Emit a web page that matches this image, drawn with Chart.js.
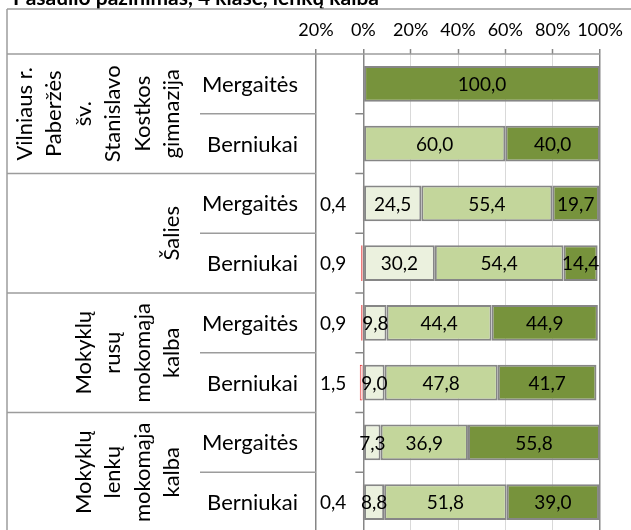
<!DOCTYPE html>
<html><head><meta charset="utf-8">
<script src="https://cdn.jsdelivr.net/npm/chart.js@4"></script>
<style>html,body{margin:0;padding:0;overflow:hidden;background:#fff}canvas{display:block}</style>
</head><body>
<canvas id="c" width="631" height="532"></canvas>
<script>
const chartTitle = "Pasaulio pažinimas, 4 klasė, lenkų kalba";
const categories = ["Mergaitės","Berniukai","Mergaitės","Berniukai","Mergaitės","Berniukai","Mergaitės","Berniukai"];
const groupLabels = [
  ["Vilniaus r.","Paberžės","šv.","Stanislavo","Kostkos","gimnazija"],
  ["Šalies"],
  ["Mokyklų","rusų","mokomąja","kalba"],
  ["Mokyklų","lenkų","mokomąja","kalba"]
];
const groupSizes = [2,2,2,2];
const seriesNames = ["Nepatenkinamas","Patenkinamas","Pagrindinis","Aukštesnysis"];
const belowLevel   = [null, null, 0.4, 0.9, 0.9, 1.5, null, 0.4];
const satisfactory = [null, null, 24.5, 30.2, 9.8, 9.0, 7.3, 8.8];
const basic        = [null, 60.0, 55.4, 54.4, 44.4, 47.8, 36.9, 51.8];
const advanced     = [100.0, 40.0, 19.7, 14.4, 44.9, 41.7, 55.8, 39.0];
const axisMin = -20, axisMax = 100, axisStep = 20;

const FONT = "Lato, 'Open Sans', sans-serif";
const GRAY = '#868686';
const TABLE = '#9c9c9c';

function fmt(v){ return Math.abs(v).toFixed(1).replace('.', ','); }

const tablePlugin = {
  id: 'tableDeco',
  beforeDraw(chart){
    const c = chart.ctx; c.save(); c.fillStyle = '#fff'; c.fillRect(0,0,chart.width,chart.height); c.restore();
  },
  afterDraw(chart){
    const c = chart.ctx, ca = chart.chartArea, xs = chart.scales.x, ys = chart.scales.y;
    c.save();
    function ln(x1,y1,x2,y2){ c.beginPath(); c.moveTo(x1,y1); c.lineTo(x2,y2); c.stroke(); }
    // title (cut at top)
    c.fillStyle = '#000';
    c.font = "bold 21px " + FONT;
    c.textAlign = 'left'; c.textBaseline = 'alphabetic';
    c.fillText(chartTitle, 13, 5);
    // table lines
    const L = 7, T = 9;
    const xNeg = xs.getPixelForValue(axisMin);
    const x0 = xs.getPixelForValue(0);
    c.strokeStyle = TABLE; c.lineWidth = 1.5;
    ln(L, T, chart.width, T);
    ln(L, T, L, chart.height);
    ln(L, ca.top, ca.right, ca.top);
    const n = categories.length;
    const bnd = i => (ys.getPixelForValue(i-1) + ys.getPixelForValue(i)) / 2;
    let acc = 0; const groupStarts = [];
    groupSizes.forEach(s => { groupStarts.push(acc); acc += s; });
    for (let i = 1; i < n; i++) {
      const yb = bnd(i);
      const isGroup = groupStarts.includes(i);
      c.strokeStyle = TABLE; c.lineWidth = 1.5;
      ln(isGroup ? L : 200, yb, xNeg, yb);
      c.strokeStyle = GRAY;
      ln(x0 - 8, yb, x0, yb);
    }
    // sub labels
    c.fillStyle = '#000';
    c.font = "22px " + FONT;
    c.textAlign = 'right'; c.textBaseline = 'middle';
    for (let i = 0; i < n; i++) c.fillText(categories[i], 298, ys.getPixelForValue(i) + 1);
    // group labels rotated
    groupLabels.forEach((lines, g) => {
      const first = groupStarts[g], last = first + groupSizes[g] - 1;
      const top = first === 0 ? ca.top : bnd(first);
      const bot = last === n - 1 ? ca.bottom : bnd(last + 1);
      const yc = (top + bot) / 2;
      lines.forEach((t, j) => {
        const xc = 172 - (lines.length - 1 - j) * 29.5;
        c.save();
        c.translate(xc, yc);
        c.rotate(-Math.PI / 2);
        c.textAlign = 'center'; c.textBaseline = 'middle';
        c.fillText(t, 0, 0);
        c.restore();
      });
    });
    c.restore();
  },
  afterDatasetsDraw(chart){
    const c = chart.ctx, xs = chart.scales.x;
    c.save();
    c.fillStyle = '#000';
    c.font = "19px " + FONT;
    c.textBaseline = 'middle';
    chart.data.datasets.forEach((ds, di) => {
      const meta = chart.getDatasetMeta(di);
      meta.data.forEach((el, i) => {
        const v = ds.data[i];
        if (v == null) return;
        if (di === 0) {
          c.textAlign = 'left';
          c.fillText(fmt(v), xs.getPixelForValue(axisMin) + 4, el.y + 1);
        } else {
          c.textAlign = 'center';
          c.fillText(fmt(v), (el.x + el.base) / 2, el.y + 1);
        }
      });
    });
    c.restore();
  }
};

new Chart(document.getElementById('c'), {
  type: 'bar',
  data: {
    labels: categories,
    datasets: [
      { label: seriesNames[0], data: belowLevel.map(v => v == null ? null : -v), backgroundColor: '#ffffff', borderColor: '#e03030', borderWidth: 1 },
      { label: seriesNames[1], data: satisfactory, backgroundColor: '#EBF1DE', borderColor: GRAY, borderWidth: 2 },
      { label: seriesNames[2], data: basic, backgroundColor: '#C3D69B', borderColor: GRAY, borderWidth: 2 },
      { label: seriesNames[3], data: advanced, backgroundColor: '#77933C', borderColor: GRAY, borderWidth: 2 }
    ]
  },
  options: {
    indexAxis: 'y',
    responsive: false,
    animation: false,
    devicePixelRatio: 1,
    layout: { padding: { left: 316, right: 31, top: 0, bottom: 0 } },
    datasets: { bar: { barPercentage: 1, categoryPercentage: 0.6, borderSkipped: false } },
    plugins: { legend: { display: false }, title: { display: false }, tooltip: { enabled: false } },
    scales: {
      x: {
        position: 'top', stacked: true, min: axisMin, max: axisMax,
        ticks: { stepSize: axisStep, callback: v => Math.abs(v) + '%', color: '#000', font: { family: FONT, size: 18 }, padding: 8, maxRotation: 0, autoSkip: false },
        grid: {
          color: ctx => (ctx.tick && [axisMin, 0, axisMax].includes(ctx.tick.value)) ? GRAY : '#d9d9d9',
          lineWidth: ctx => (ctx.tick && [axisMin, 0, axisMax].includes(ctx.tick.value)) ? 1.5 : 1,
          tickLength: 5, tickColor: GRAY, tickWidth: 1.5
        },
        border: { display: false },
        afterFit(s) { s.height = 54; }
      },
      y: { display: false, stacked: true }
    }
  },
  plugins: [tablePlugin]
});
</script>
</body></html>
